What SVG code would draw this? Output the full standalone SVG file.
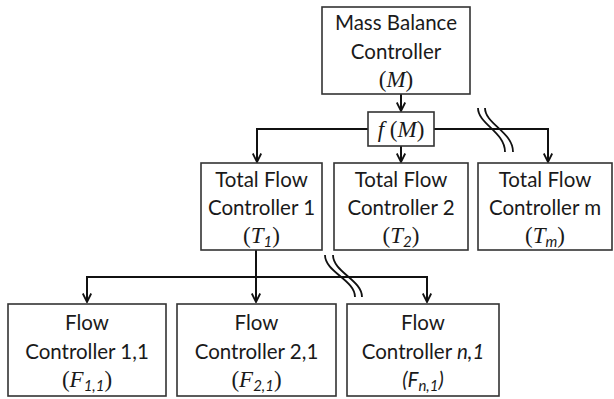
<svg xmlns="http://www.w3.org/2000/svg" width="614" height="399" viewBox="0 0 614 399">
<defs>
<marker id="arr" viewBox="0 0 10 10" refX="9.5" refY="5" markerWidth="10" markerHeight="10" markerUnits="userSpaceOnUse" orient="auto">
<path d="M1,0.8 L9.5,5 L1,9.2" fill="none" stroke="#111" stroke-width="1.8"/>
</marker>
<style>
.box{fill:#fff;stroke:#333;stroke-width:1.6}
.t{font-family:Lato,"Open Sans","Liberation Sans",sans-serif;font-size:20.5px;fill:#1a1a1a;text-anchor:middle}
.m{font-family:"Liberation Serif","DejaVu Serif",serif;font-size:23px}
.mi{font-family:"Liberation Serif","DejaVu Serif",serif;font-style:italic;font-size:23px}
.si{font-style:italic;font-size:15px}
.c{fill:none;stroke:#111;stroke-width:2}
.brk{fill:none;stroke:#111;stroke-width:1.8}
</style>
</defs>
<rect width="614" height="399" fill="#fff"/>
<g id="connectors">
<path class="c" d="M401,94 V111" marker-end="url(#arr)"/>
<path class="c" d="M368,129 H257 V162" marker-end="url(#arr)"/>
<path class="c" d="M434,129 H548 V162" marker-end="url(#arr)"/>
<path class="c" d="M401,146 V162" marker-end="url(#arr)"/>
<path class="c" d="M256,250 V302" marker-end="url(#arr)"/>
<path class="c" d="M256,277 H87 V302" marker-end="url(#arr)"/>
<path class="c" d="M256,277 H427 V302" marker-end="url(#arr)"/>
<path class="brk" d="M478,108 C478,124 505,132 505,152"/>
<path class="brk" d="M485,108 C485,124 513,132 513,152"/>
<path class="brk" d="M325,255 C325,272 355,280 355,297"/>
<path class="brk" d="M333,255 C333,272 362,280 362,297"/>
</g>
<g id="mass">
<rect class="box" x="322" y="7" width="148" height="87"/>
<text class="t" x="396" y="30">Mass Balance</text>
<text class="t" x="396" y="59">Controller</text>
<text class="t" x="396" y="87"><tspan class="m">(</tspan><tspan class="mi">M</tspan><tspan class="m">)</tspan></text>
</g>
<g id="fM">
<rect class="box" x="368" y="112" width="66" height="34"/>
<text class="t" x="401" y="137"><tspan class="mi">f</tspan><tspan class="m"> (</tspan><tspan class="mi">M</tspan><tspan class="m">)</tspan></text>
</g>
<g id="T1">
<rect class="box" x="201" y="163" width="121" height="87"/>
<text class="t" x="261.5" y="187">Total Flow</text>
<text class="t" x="261.5" y="215">Controller 1</text>
<text class="t" x="261.5" y="243"><tspan class="m">(</tspan><tspan class="mi">T</tspan><tspan class="si" dy="4">1</tspan><tspan class="m" dy="-4">)</tspan></text>
</g>
<g id="T2">
<rect class="box" x="334" y="163" width="134" height="87"/>
<text class="t" x="401" y="187">Total Flow</text>
<text class="t" x="401" y="215">Controller 2</text>
<text class="t" x="401" y="243"><tspan class="m">(</tspan><tspan class="mi">T</tspan><tspan class="si" dy="4">2</tspan><tspan class="m" dy="-4">)</tspan></text>
</g>
<g id="Tm">
<rect class="box" x="478" y="163" width="134" height="87"/>
<text class="t" x="545" y="187">Total Flow</text>
<text class="t" x="545" y="215">Controller m</text>
<text class="t" x="545" y="243"><tspan class="m">(</tspan><tspan class="mi">T</tspan><tspan class="si" dy="4">m</tspan><tspan class="m" dy="-4">)</tspan></text>
</g>
<g id="F11">
<rect class="box" x="8" y="304" width="158" height="92"/>
<text class="t" x="87" y="330">Flow</text>
<text class="t" x="87" y="359">Controller 1,1</text>
<text class="t" x="87" y="387"><tspan class="m">(</tspan><tspan class="mi">F</tspan><tspan class="si" dy="4">1,1</tspan><tspan class="m" dy="-4">)</tspan></text>
</g>
<g id="F21">
<rect class="box" x="177" y="304" width="159" height="92"/>
<text class="t" x="256.5" y="330">Flow</text>
<text class="t" x="256.5" y="359">Controller 2,1</text>
<text class="t" x="256.5" y="387"><tspan class="m">(</tspan><tspan class="mi">F</tspan><tspan class="si" dy="4">2,1</tspan><tspan class="m" dy="-4">)</tspan></text>
</g>
<g id="Fn1">
<rect class="box" x="347" y="304" width="152" height="92"/>
<text class="t" x="423" y="330">Flow</text>
<text class="t" x="423" y="359">Controller <tspan font-style="italic">n,1</tspan></text>
<text class="t" x="423" y="387" font-style="italic" font-size="21px">(F<tspan class="si" dy="4">n,1</tspan><tspan dy="-4">)</tspan></text>
</g>
</svg>
